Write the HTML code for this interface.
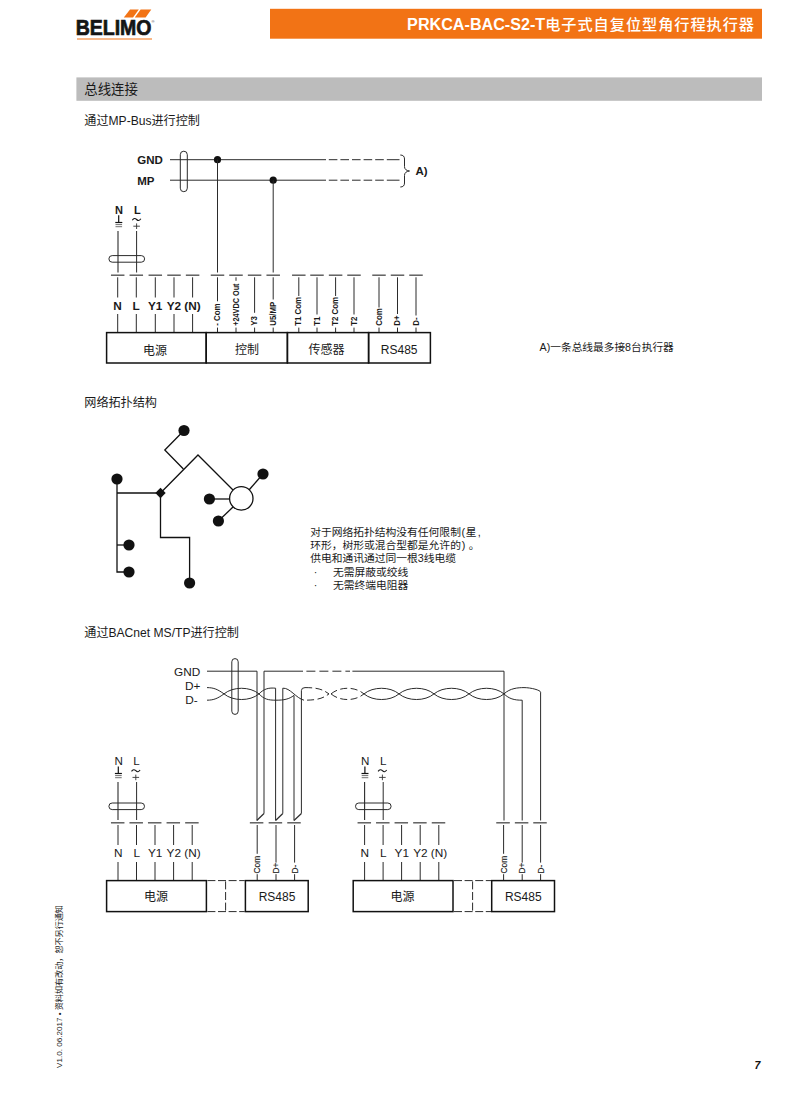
<!DOCTYPE html>
<html lang="zh-CN">
<head>
<meta charset="utf-8">
<title>PRKCA-BAC-S2-T电子式自复位型角行程执行器</title>
<style>
html,body{margin:0;padding:0;background:#fff;}
body{width:800px;height:1094px;overflow:hidden;}
svg{display:block;font-family:"Liberation Sans", "Noto Sans CJK SC", sans-serif;}
</style>
</head>
<body>
<svg width="800" height="1094" viewBox="0 0 800 1094">
<rect x="0" y="0" width="800" height="1094" fill="#ffffff"/>
<rect x="270" y="8.8" width="492" height="29.9" fill="#f27315"/>
<text x="755" y="29.5" font-size="16.15" font-weight="normal" text-anchor="end" fill="#fff" ><tspan font-weight="bold">PRKCA-BAC-S2-T</tspan><tspan font-weight="500" font-size="15.2" letter-spacing="0.95">电子式自复位型角行程执行器</tspan></text>
<polygon points="130,9.4 138.8,9.4 133,17.5 123.8,17.5" fill="#f27315"/>
<polygon points="140.6,9.4 151.3,9.4 145.6,17.5 134.8,17.5" fill="#f27315"/>
<text x="75.7" y="35.1" font-size="21.2" font-weight="bold" text-anchor="start" fill="#151515" textLength="75.8" lengthAdjust="spacingAndGlyphs" stroke="#151515" stroke-width="0.7">BELIMO</text>
<text x="151.4" y="23.4" font-size="4" font-weight="normal" text-anchor="start" fill="#333" >®</text>
<line x1="77" y1="39" x2="152" y2="39" stroke="#f27315" stroke-width="1.1" />
<rect x="76.4" y="77.4" width="685.6" height="23.4" fill="#bcbcbc"/>
<text x="84.3" y="94.4" font-size="13.4" font-weight="normal" text-anchor="start" fill="#1a1a1a" >总线连接</text>
<text x="84.3" y="124.5" font-size="12.1" font-weight="normal" text-anchor="start" fill="#1a1a1a" >通过MP-Bus进行控制</text>
<text x="137.2" y="163.8" font-size="11.5" font-weight="bold" text-anchor="start" fill="#1a1a1a" >GND</text>
<text x="137.2" y="184.6" font-size="11.5" font-weight="bold" text-anchor="start" fill="#1a1a1a" >MP</text>
<line x1="170" y1="159.7" x2="326" y2="159.7" stroke="#2b2b2b" stroke-width="1" />
<line x1="170" y1="180.2" x2="326" y2="180.2" stroke="#2b2b2b" stroke-width="1" />
<line x1="328.8" y1="159.7" x2="399.5" y2="159.7" stroke="#2b2b2b" stroke-width="1" stroke-dasharray="8.6 3 8.6 3 8.6 3 8.6 3 8.6 3 13 3"/>
<line x1="328.8" y1="180.2" x2="399.5" y2="180.2" stroke="#2b2b2b" stroke-width="1" stroke-dasharray="8.6 3 8.6 3 8.6 3 8.6 3 8.6 3 13 3"/>
<rect x="180.3" y="151.2" width="7" height="40.5" rx="3.5" ry="3.5" fill="none" stroke="#2b2b2b" stroke-width="1"/>
<path d="M400.3,155 q4.2,0 4.2,4 v7.6 q0,3.8 5,4.4 q-5,0.6 -5,4.4 v7.6 q0,4 -4.2,4" fill="none" stroke="#2b2b2b" stroke-width="1" />
<text x="415.4" y="174.9" font-size="11.5" font-weight="bold" text-anchor="start" fill="#1a1a1a" >A)</text>
<circle cx="217.5" cy="159.7" r="3.6" fill="#111"/>
<circle cx="273.2" cy="180.2" r="3.6" fill="#111"/>
<line x1="217.5" y1="159.7" x2="217.5" y2="272.5" stroke="#2b2b2b" stroke-width="1" />
<line x1="273.2" y1="180.2" x2="273.2" y2="272.5" stroke="#2b2b2b" stroke-width="1" />
<text x="119" y="213.6" font-size="11" font-weight="bold" text-anchor="middle" fill="#1a1a1a" >N</text>
<text x="137.4" y="213.6" font-size="11" font-weight="bold" text-anchor="middle" fill="#1a1a1a" >L</text>
<line x1="118.7" y1="215.2" x2="118.7" y2="222.5" stroke="#111" stroke-width="1.2" />
<line x1="115.3" y1="222.5" x2="122.3" y2="222.5" stroke="#111" stroke-width="1.2" />
<line x1="115.5" y1="224.6" x2="122.1" y2="224.6" stroke="#333" stroke-width="0.7" />
<line x1="115.5" y1="226.7" x2="122.1" y2="226.7" stroke="#333" stroke-width="0.7" />
<path d="M132.29999999999998,220.2 q2.1,-3.0 4.3,-0.7 q2.2,2.3 4.3,-0.7" fill="none" stroke="#1a1a1a" stroke-width="1.1" />
<line x1="133.29999999999998" y1="226.2" x2="139.9" y2="226.2" stroke="#333" stroke-width="0.9" />
<line x1="136.6" y1="223.4" x2="136.6" y2="229.0" stroke="#333" stroke-width="0.9" />
<line x1="118.0" y1="231" x2="118.0" y2="272.5" stroke="#2b2b2b" stroke-width="1.1" />
<line x1="136.6" y1="231" x2="136.6" y2="272.5" stroke="#2b2b2b" stroke-width="1" />
<rect x="108.9" y="255.6" width="35.7" height="6.6" rx="3.3" ry="3.3" fill="none" stroke="#2b2b2b" stroke-width="1"/>
<line x1="110.95" y1="275.2" x2="124.45" y2="275.2" stroke="#555" stroke-width="1.4" />
<line x1="129.55" y1="275.2" x2="143.05" y2="275.2" stroke="#555" stroke-width="1.4" />
<line x1="148.55" y1="275.2" x2="162.05" y2="275.2" stroke="#555" stroke-width="1.4" />
<line x1="167.25" y1="275.2" x2="180.75" y2="275.2" stroke="#555" stroke-width="1.4" />
<line x1="185.85" y1="275.2" x2="199.35" y2="275.2" stroke="#555" stroke-width="1.4" />
<line x1="210.75" y1="275.2" x2="224.25" y2="275.2" stroke="#555" stroke-width="1.4" />
<line x1="229.25" y1="275.2" x2="242.75" y2="275.2" stroke="#555" stroke-width="1.4" />
<line x1="247.85" y1="275.2" x2="261.35" y2="275.2" stroke="#555" stroke-width="1.4" />
<line x1="266.45" y1="275.2" x2="279.95" y2="275.2" stroke="#555" stroke-width="1.4" />
<line x1="292.05" y1="275.2" x2="305.55" y2="275.2" stroke="#555" stroke-width="1.4" />
<line x1="310.25" y1="275.2" x2="323.75" y2="275.2" stroke="#555" stroke-width="1.4" />
<line x1="328.85" y1="275.2" x2="342.35" y2="275.2" stroke="#555" stroke-width="1.4" />
<line x1="347.25" y1="275.2" x2="360.75" y2="275.2" stroke="#555" stroke-width="1.4" />
<line x1="372.25" y1="275.2" x2="385.75" y2="275.2" stroke="#555" stroke-width="1.4" />
<line x1="390.75" y1="275.2" x2="404.25" y2="275.2" stroke="#555" stroke-width="1.4" />
<line x1="409.25" y1="275.2" x2="422.75" y2="275.2" stroke="#555" stroke-width="1.4" />
<line x1="117.7" y1="277.3" x2="117.7" y2="297.5" stroke="#2b2b2b" stroke-width="1" />
<line x1="117.7" y1="314" x2="117.7" y2="332" stroke="#2b2b2b" stroke-width="1" />
<text x="117.60000000000001" y="309.6" font-size="11.8" font-weight="bold" text-anchor="middle" fill="#1a1a1a" >N</text>
<line x1="136.3" y1="277.3" x2="136.3" y2="297.5" stroke="#2b2b2b" stroke-width="1" />
<line x1="136.3" y1="314" x2="136.3" y2="332" stroke="#2b2b2b" stroke-width="1" />
<text x="136.20000000000002" y="309.6" font-size="11.8" font-weight="bold" text-anchor="middle" fill="#1a1a1a" >L</text>
<line x1="155.3" y1="277.3" x2="155.3" y2="297.5" stroke="#2b2b2b" stroke-width="1" />
<line x1="155.3" y1="314" x2="155.3" y2="332" stroke="#2b2b2b" stroke-width="1" />
<text x="155.20000000000002" y="309.6" font-size="11.8" font-weight="bold" text-anchor="middle" fill="#1a1a1a" >Y1</text>
<line x1="174" y1="277.3" x2="174" y2="297.5" stroke="#2b2b2b" stroke-width="1" />
<line x1="174" y1="314" x2="174" y2="332" stroke="#2b2b2b" stroke-width="1" />
<text x="173.9" y="309.6" font-size="11.8" font-weight="bold" text-anchor="middle" fill="#1a1a1a" >Y2</text>
<line x1="192.6" y1="277.3" x2="192.6" y2="297.5" stroke="#2b2b2b" stroke-width="1" />
<line x1="192.6" y1="314" x2="192.6" y2="332" stroke="#2b2b2b" stroke-width="1" />
<text x="192.5" y="309.6" font-size="11.8" font-weight="bold" text-anchor="middle" fill="#1a1a1a" >(N)</text>
<line x1="217.5" y1="277.3" x2="217.5" y2="301.3" stroke="#2b2b2b" stroke-width="1" />
<line x1="217.5" y1="327.6" x2="217.5" y2="332" stroke="#2b2b2b" stroke-width="1" />
<text transform="translate(220.1,325.8) rotate(-90) scale(0.93,1)" font-size="8.5" font-weight="bold" fill="#1a1a1a" >- Com</text>
<line x1="236" y1="277.3" x2="236" y2="280.8" stroke="#2b2b2b" stroke-width="1" />
<line x1="236" y1="327.6" x2="236" y2="332" stroke="#2b2b2b" stroke-width="1" />
<text transform="translate(238.6,325.8) rotate(-90) scale(0.86,1)" font-size="8.5" font-weight="bold" fill="#1a1a1a" >+24VDC Out</text>
<line x1="254.6" y1="277.3" x2="254.6" y2="312.8" stroke="#2b2b2b" stroke-width="1" />
<line x1="254.6" y1="327.6" x2="254.6" y2="332" stroke="#2b2b2b" stroke-width="1" />
<text transform="translate(257.2,325.8) rotate(-90) scale(0.93,1)" font-size="8.5" font-weight="bold" fill="#1a1a1a" >Y3</text>
<line x1="273.2" y1="277.3" x2="273.2" y2="299.5" stroke="#2b2b2b" stroke-width="1" />
<line x1="273.2" y1="327.6" x2="273.2" y2="332" stroke="#2b2b2b" stroke-width="1" />
<text transform="translate(275.8,325.8) rotate(-90) scale(0.93,1)" font-size="8.5" font-weight="bold" fill="#1a1a1a" >U5/MP</text>
<line x1="298.8" y1="277.3" x2="298.8" y2="296" stroke="#2b2b2b" stroke-width="1" />
<line x1="298.8" y1="327.6" x2="298.8" y2="332" stroke="#2b2b2b" stroke-width="1" />
<text transform="translate(301.40000000000003,325.8) rotate(-90) scale(0.93,1)" font-size="8.5" font-weight="bold" fill="#1a1a1a" >T1 Com</text>
<line x1="317" y1="277.3" x2="317" y2="314.5" stroke="#2b2b2b" stroke-width="1" />
<line x1="317" y1="327.6" x2="317" y2="332" stroke="#2b2b2b" stroke-width="1" />
<text transform="translate(319.6,325.8) rotate(-90) scale(0.93,1)" font-size="8.5" font-weight="bold" fill="#1a1a1a" >T1</text>
<line x1="335.6" y1="277.3" x2="335.6" y2="296" stroke="#2b2b2b" stroke-width="1" />
<line x1="335.6" y1="327.6" x2="335.6" y2="332" stroke="#2b2b2b" stroke-width="1" />
<text transform="translate(338.20000000000005,325.8) rotate(-90) scale(0.93,1)" font-size="8.5" font-weight="bold" fill="#1a1a1a" >T2 Com</text>
<line x1="354" y1="277.3" x2="354" y2="314.5" stroke="#2b2b2b" stroke-width="1" />
<line x1="354" y1="327.6" x2="354" y2="332" stroke="#2b2b2b" stroke-width="1" />
<text transform="translate(356.6,325.8) rotate(-90) scale(0.93,1)" font-size="8.5" font-weight="bold" fill="#1a1a1a" >T2</text>
<line x1="379" y1="277.3" x2="379" y2="307.5" stroke="#2b2b2b" stroke-width="1" />
<line x1="379" y1="327.6" x2="379" y2="332" stroke="#2b2b2b" stroke-width="1" />
<text transform="translate(381.6,325.8) rotate(-90) scale(0.93,1)" font-size="8.5" font-weight="bold" fill="#1a1a1a" >Com</text>
<line x1="397.5" y1="277.3" x2="397.5" y2="314" stroke="#2b2b2b" stroke-width="1" />
<line x1="397.5" y1="327.6" x2="397.5" y2="332" stroke="#2b2b2b" stroke-width="1" />
<text transform="translate(400.1,325.8) rotate(-90) scale(0.93,1)" font-size="8.5" font-weight="bold" fill="#1a1a1a" >D+</text>
<line x1="416" y1="277.3" x2="416" y2="315.5" stroke="#2b2b2b" stroke-width="1" />
<line x1="416" y1="327.6" x2="416" y2="332" stroke="#2b2b2b" stroke-width="1" />
<text transform="translate(418.6,325.8) rotate(-90) scale(0.93,1)" font-size="8.5" font-weight="bold" fill="#1a1a1a" >D-</text>
<rect x="106.6" y="332.6" width="99.6" height="30.4" fill="none" stroke="#111" stroke-width="1.5"/>
<rect x="206.2" y="332.6" width="81.2" height="30.4" fill="none" stroke="#111" stroke-width="1.5"/>
<rect x="287.4" y="332.6" width="81.2" height="30.4" fill="none" stroke="#111" stroke-width="1.5"/>
<rect x="368.6" y="332.6" width="61.8" height="30.4" fill="none" stroke="#111" stroke-width="1.5"/>
<text x="155" y="354.6" font-size="12" font-weight="normal" text-anchor="middle" fill="#1a1a1a" >电源</text>
<text x="247" y="354.3" font-size="12" font-weight="normal" text-anchor="middle" fill="#1a1a1a" >控制</text>
<text x="326.6" y="354.3" font-size="12" font-weight="normal" text-anchor="middle" fill="#1a1a1a" >传感器</text>
<text x="399.2" y="354.4" font-size="12" font-weight="normal" text-anchor="middle" fill="#1a1a1a" >RS485</text>
<text x="539.6" y="351" font-size="10.7" font-weight="normal" text-anchor="start" fill="#1a1a1a" >A)一条总线最多接8台执行器</text>
<text x="84.3" y="406.7" font-size="12.1" font-weight="normal" text-anchor="start" fill="#1a1a1a" >网络拓扑结构</text>
<path d="M184,430.5 L164.8,450 L183.4,469" fill="none" stroke="#111" stroke-width="1.3" stroke-linejoin="miter"/>
<path d="M160.5,493 L198,455 L233,490" fill="none" stroke="#111" stroke-width="1.3" stroke-linejoin="miter"/>
<path d="M117,479 L117,572 L129,572" fill="none" stroke="#111" stroke-width="1.3" stroke-linejoin="miter"/>
<path d="M117,493 L160.5,493" fill="none" stroke="#111" stroke-width="1.3" stroke-linejoin="miter"/>
<path d="M117,545 L129,545" fill="none" stroke="#111" stroke-width="1.3" stroke-linejoin="miter"/>
<path d="M160.5,493 L160.5,537.5 L189.6,537.5 L189.6,583" fill="none" stroke="#111" stroke-width="1.3" stroke-linejoin="miter"/>
<path d="M209.4,499 L230,499" fill="none" stroke="#111" stroke-width="1.3" stroke-linejoin="miter"/>
<path d="M218.4,521 L233,507" fill="none" stroke="#111" stroke-width="1.3" stroke-linejoin="miter"/>
<path d="M263,474 L249,490" fill="none" stroke="#111" stroke-width="1.3" stroke-linejoin="miter"/>
<circle cx="241.3" cy="498.4" r="11.7" fill="#fff" stroke="#111" stroke-width="1.3"/>
<circle cx="184" cy="430.5" r="5.6" fill="#111"/>
<circle cx="117" cy="479" r="5.6" fill="#111"/>
<circle cx="129" cy="545" r="5.6" fill="#111"/>
<circle cx="129" cy="572" r="5.6" fill="#111"/>
<circle cx="189.6" cy="583" r="5.6" fill="#111"/>
<circle cx="209.4" cy="499" r="5.6" fill="#111"/>
<circle cx="218.4" cy="521" r="5.6" fill="#111"/>
<circle cx="263" cy="474" r="5.6" fill="#111"/>
<polygon points="160.5,487.8 165.7,493 160.5,498.2 155.3,493" fill="#111"/>
<text x="310.2" y="535.8" font-size="10.78" font-weight="normal" text-anchor="start" fill="#1a1a1a" >对于网络拓扑结构没有任何限制<tspan dx="0.7">(</tspan><tspan dx="0.5">星</tspan><tspan dx="1.2">,</tspan></text>
<text x="310.2" y="549.4" font-size="10.78" font-weight="normal" text-anchor="start" fill="#1a1a1a" >环形，树形或混合型都是允许的<tspan dx="0.8">)</tspan><tspan dx="3.4">。</tspan></text>
<text x="310.2" y="562.3" font-size="10.78" font-weight="normal" text-anchor="start" fill="#1a1a1a" >供电和通讯通过同一根3线电缆</text>
<text x="313.8" y="576" font-size="10.78" font-weight="normal" text-anchor="start" fill="#1a1a1a" >·</text>
<text x="333" y="576" font-size="10.78" font-weight="normal" text-anchor="start" fill="#1a1a1a" >无需屏蔽或绞线</text>
<text x="313.8" y="589" font-size="10.78" font-weight="normal" text-anchor="start" fill="#1a1a1a" >·</text>
<text x="333" y="589" font-size="10.78" font-weight="normal" text-anchor="start" fill="#1a1a1a" >无需终端电阻器</text>
<text x="84.3" y="636.5" font-size="12.1" font-weight="normal" text-anchor="start" fill="#1a1a1a" >通过BACnet MS/TP进行控制</text>
<text x="200.3" y="675.8" font-size="11.8" font-weight="normal" text-anchor="end" fill="#1a1a1a" >GND</text>
<text x="200.3" y="690.2" font-size="11.8" font-weight="normal" text-anchor="end" fill="#1a1a1a" >D+</text>
<text x="197.8" y="703.8" font-size="11.8" font-weight="normal" text-anchor="end" fill="#1a1a1a" >D-</text>
<rect x="231.8" y="658.6" width="6.4" height="55.8" rx="3.2" ry="3.2" fill="none" stroke="#2b2b2b" stroke-width="1"/>
<path d="M207,671.2 H257 V820.5" fill="none" stroke="#2b2b2b" stroke-width="1" />
<path d="M264,813.5 V671.2 H303" fill="none" stroke="#2b2b2b" stroke-width="1" />
<path d="M256.8,820.5 L264,813.5" fill="none" stroke="#2b2b2b" stroke-width="1.2" />
<line x1="306.4" y1="671.2" x2="350" y2="671.2" stroke="#2b2b2b" stroke-width="1" stroke-dasharray="9 4"/>
<path d="M352.4,671.2 H504 V820.5" fill="none" stroke="#2b2b2b" stroke-width="1" />
<path d="M207,687.6 C214,687.6 218,689.6 224,693.9000000000001" fill="none" stroke="#2b2b2b" stroke-width="1" />
<path d="M207,700.2 C214,700.2 218,698.2 224,693.9000000000001" fill="none" stroke="#2b2b2b" stroke-width="1" />
<path d="M224,693.9000000000001 C233,686.4 250,686.4 259,693.9000000000001" fill="none" stroke="#2b2b2b" stroke-width="1" />
<path d="M224,693.9000000000001 C233,701.4000000000001 250,701.4000000000001 259,693.9000000000001" fill="none" stroke="#2b2b2b" stroke-width="1" />
<path d="M259,693.9000000000001 C264,688.6 269,687.6 275.6,688.2 V820.5" fill="none" stroke="#2b2b2b" stroke-width="1" />
<path d="M282.8,813.5 V688.2 C290,687.6 296,698.2 304,700.2" fill="none" stroke="#2b2b2b" stroke-width="1" />
<path d="M275.6,820.5 L282.8,813.5" fill="none" stroke="#2b2b2b" stroke-width="1.2" />
<path d="M259,693.9000000000001 C264,699.2 268,700.2 276,700.2 C284,700.2 289,699.2 294,695.4000000000001 V820.5" fill="none" stroke="#2b2b2b" stroke-width="1" />
<path d="M301.4,813.5 V690.6 Q301.4,687.6 305,687.6" fill="none" stroke="#2b2b2b" stroke-width="1" />
<path d="M294,820.5 L301.4,813.5" fill="none" stroke="#2b2b2b" stroke-width="1.2" />
<path d="M305,687.6 C318,687.6 323,689.6 329,693.9000000000001 C323,698.2 318,700.2 304,700.2" fill="none" stroke="#2b2b2b" stroke-width="1" stroke-dasharray="7 3.4"/>
<path d="M331,693.9000000000001 C340,686.4 355,686.4 364,693.9000000000001" fill="none" stroke="#2b2b2b" stroke-width="1" stroke-dasharray="7 3.4"/>
<path d="M331,693.9000000000001 C340,701.4000000000001 355,701.4000000000001 364,693.9000000000001" fill="none" stroke="#2b2b2b" stroke-width="1" stroke-dasharray="7 3.4"/>
<path d="M364,693.9000000000001 C373,686.4 390,686.4 399,693.9000000000001" fill="none" stroke="#2b2b2b" stroke-width="1" />
<path d="M364,693.9000000000001 C373,701.4000000000001 390,701.4000000000001 399,693.9000000000001" fill="none" stroke="#2b2b2b" stroke-width="1" />
<path d="M399,693.9000000000001 C408,686.4 425,686.4 434,693.9000000000001" fill="none" stroke="#2b2b2b" stroke-width="1" />
<path d="M399,693.9000000000001 C408,701.4000000000001 425,701.4000000000001 434,693.9000000000001" fill="none" stroke="#2b2b2b" stroke-width="1" />
<path d="M434,693.9000000000001 C443,686.4 460,686.4 469,693.9000000000001" fill="none" stroke="#2b2b2b" stroke-width="1" />
<path d="M434,693.9000000000001 C443,701.4000000000001 460,701.4000000000001 469,693.9000000000001" fill="none" stroke="#2b2b2b" stroke-width="1" />
<path d="M469,693.9000000000001 C478,686.4 495,686.4 504,693.9000000000001" fill="none" stroke="#2b2b2b" stroke-width="1" />
<path d="M469,693.9000000000001 C478,701.4000000000001 495,701.4000000000001 504,693.9000000000001" fill="none" stroke="#2b2b2b" stroke-width="1" />
<path d="M504,693.9000000000001 C510,688.2 518,687.6 524,687.6 C531,687.6 540.6,690.2 540.6,692.2 V820.5" fill="none" stroke="#2b2b2b" stroke-width="1" />
<path d="M504,693.9000000000001 C509,698.7 514,700.2 522.2,700.2 V820.5" fill="none" stroke="#2b2b2b" stroke-width="1" />
<text x="118.6" y="764.8" font-size="11.6" font-weight="normal" text-anchor="middle" fill="#1a1a1a" >N</text>
<text x="136.6" y="764.8" font-size="11.6" font-weight="normal" text-anchor="middle" fill="#1a1a1a" >L</text>
<line x1="118.3" y1="766.4" x2="118.3" y2="773.5" stroke="#111" stroke-width="1.2" />
<line x1="114.89999999999999" y1="773.5" x2="121.89999999999999" y2="773.5" stroke="#111" stroke-width="1.2" />
<line x1="115.1" y1="775.6" x2="121.69999999999999" y2="775.6" stroke="#333" stroke-width="0.7" />
<line x1="115.1" y1="777.7" x2="121.69999999999999" y2="777.7" stroke="#333" stroke-width="0.7" />
<path d="M131.49999999999997,771.4 q2.1,-3.0 4.3,-0.7 q2.2,2.3 4.3,-0.7" fill="none" stroke="#1a1a1a" stroke-width="1.1" />
<line x1="132.49999999999997" y1="777.4" x2="139.1" y2="777.4" stroke="#333" stroke-width="0.9" />
<line x1="135.79999999999998" y1="774.5999999999999" x2="135.79999999999998" y2="780.1999999999999" stroke="#333" stroke-width="0.9" />
<line x1="118" y1="782" x2="118" y2="820" stroke="#2b2b2b" stroke-width="1.1" />
<line x1="136.6" y1="782" x2="136.6" y2="820" stroke="#2b2b2b" stroke-width="1" />
<rect x="108.9" y="803" width="35.6" height="6.6" rx="3.3" ry="3.3" fill="none" stroke="#2b2b2b" stroke-width="1"/>
<line x1="110.95" y1="822.8" x2="124.45" y2="822.8" stroke="#555" stroke-width="1.4" />
<line x1="118" y1="825" x2="118" y2="845" stroke="#2b2b2b" stroke-width="1" />
<line x1="118" y1="862" x2="118" y2="880.5" stroke="#2b2b2b" stroke-width="1" />
<text x="118.2" y="857.4" font-size="11.8" font-weight="normal" text-anchor="middle" fill="#1a1a1a" >N</text>
<line x1="129.45" y1="822.8" x2="142.95" y2="822.8" stroke="#555" stroke-width="1.4" />
<line x1="136.5" y1="825" x2="136.5" y2="845" stroke="#2b2b2b" stroke-width="1" />
<line x1="136.5" y1="862" x2="136.5" y2="880.5" stroke="#2b2b2b" stroke-width="1" />
<text x="136.7" y="857.4" font-size="11.8" font-weight="normal" text-anchor="middle" fill="#1a1a1a" >L</text>
<line x1="147.95" y1="822.8" x2="161.45" y2="822.8" stroke="#555" stroke-width="1.4" />
<line x1="155" y1="825" x2="155" y2="845" stroke="#2b2b2b" stroke-width="1" />
<line x1="155" y1="862" x2="155" y2="880.5" stroke="#2b2b2b" stroke-width="1" />
<text x="155.2" y="857.4" font-size="11.8" font-weight="normal" text-anchor="middle" fill="#1a1a1a" >Y1</text>
<line x1="166.54999999999998" y1="822.8" x2="180.04999999999998" y2="822.8" stroke="#555" stroke-width="1.4" />
<line x1="173.6" y1="825" x2="173.6" y2="845" stroke="#2b2b2b" stroke-width="1" />
<line x1="173.6" y1="862" x2="173.6" y2="880.5" stroke="#2b2b2b" stroke-width="1" />
<text x="173.79999999999998" y="857.4" font-size="11.8" font-weight="normal" text-anchor="middle" fill="#1a1a1a" >Y2</text>
<line x1="185.14999999999998" y1="822.8" x2="198.64999999999998" y2="822.8" stroke="#555" stroke-width="1.4" />
<line x1="192.2" y1="825" x2="192.2" y2="845" stroke="#2b2b2b" stroke-width="1" />
<line x1="192.2" y1="862" x2="192.2" y2="880.5" stroke="#2b2b2b" stroke-width="1" />
<text x="192.39999999999998" y="857.4" font-size="11.8" font-weight="normal" text-anchor="middle" fill="#1a1a1a" >(N)</text>
<line x1="249.84999999999997" y1="822.8" x2="263.34999999999997" y2="822.8" stroke="#555" stroke-width="1.4" />
<line x1="257.2" y1="825" x2="257.2" y2="853.8" stroke="#2b2b2b" stroke-width="1" />
<line x1="257.2" y1="874.2" x2="257.2" y2="880.5" stroke="#2b2b2b" stroke-width="1" />
<text transform="translate(260.3,873.4) rotate(-90) scale(0.97,1)" font-size="8.6" font-weight="normal" fill="#1a1a1a" stroke="#1a1a1a" stroke-width="0.15">Com</text>
<line x1="268.65" y1="822.8" x2="282.15" y2="822.8" stroke="#555" stroke-width="1.4" />
<line x1="276" y1="825" x2="276" y2="862.6" stroke="#2b2b2b" stroke-width="1" />
<line x1="276" y1="874.2" x2="276" y2="880.5" stroke="#2b2b2b" stroke-width="1" />
<text transform="translate(279.1,873.4) rotate(-90) scale(0.97,1)" font-size="8.6" font-weight="normal" fill="#1a1a1a" stroke="#1a1a1a" stroke-width="0.15">D+</text>
<line x1="287.25" y1="822.8" x2="300.75" y2="822.8" stroke="#555" stroke-width="1.4" />
<line x1="294.6" y1="825" x2="294.6" y2="862.6" stroke="#2b2b2b" stroke-width="1" />
<line x1="294.6" y1="874.2" x2="294.6" y2="880.5" stroke="#2b2b2b" stroke-width="1" />
<text transform="translate(297.70000000000005,873.4) rotate(-90) scale(0.97,1)" font-size="8.6" font-weight="normal" fill="#1a1a1a" stroke="#1a1a1a" stroke-width="0.15">D-</text>
<rect x="106.6" y="880.6" width="99.8" height="31" fill="none" stroke="#111" stroke-width="1.5"/>
<rect x="245.4" y="880.6" width="62.8" height="31" fill="none" stroke="#111" stroke-width="1.5"/>
<text x="156" y="901.2" font-size="12" font-weight="normal" text-anchor="middle" fill="#1a1a1a" >电源</text>
<text x="277.0" y="901" font-size="12" font-weight="normal" text-anchor="middle" fill="#1a1a1a" >RS485</text>
<line x1="207.4" y1="880.6" x2="244.8" y2="880.6" stroke="#2b2b2b" stroke-width="1" stroke-dasharray="8 2.6"/>
<line x1="207.4" y1="911.6" x2="244.8" y2="911.6" stroke="#2b2b2b" stroke-width="1" stroke-dasharray="8 2.6"/>
<line x1="225.6" y1="881.4" x2="225.6" y2="911.6" stroke="#2b2b2b" stroke-width="1" stroke-dasharray="8 2.6"/>
<text x="365.2" y="764.8" font-size="11.6" font-weight="normal" text-anchor="middle" fill="#1a1a1a" >N</text>
<text x="383.2" y="764.8" font-size="11.6" font-weight="normal" text-anchor="middle" fill="#1a1a1a" >L</text>
<line x1="364.9" y1="766.4" x2="364.9" y2="773.5" stroke="#111" stroke-width="1.2" />
<line x1="361.5" y1="773.5" x2="368.5" y2="773.5" stroke="#111" stroke-width="1.2" />
<line x1="361.7" y1="775.6" x2="368.3" y2="775.6" stroke="#333" stroke-width="0.7" />
<line x1="361.7" y1="777.7" x2="368.3" y2="777.7" stroke="#333" stroke-width="0.7" />
<path d="M378.09999999999997,771.4 q2.1,-3.0 4.3,-0.7 q2.2,2.3 4.3,-0.7" fill="none" stroke="#1a1a1a" stroke-width="1.1" />
<line x1="379.09999999999997" y1="777.4" x2="385.7" y2="777.4" stroke="#333" stroke-width="0.9" />
<line x1="382.4" y1="774.5999999999999" x2="382.4" y2="780.1999999999999" stroke="#333" stroke-width="0.9" />
<line x1="364.6" y1="782" x2="364.6" y2="820" stroke="#2b2b2b" stroke-width="1.1" />
<line x1="383.2" y1="782" x2="383.2" y2="820" stroke="#2b2b2b" stroke-width="1" />
<rect x="355.5" y="803" width="35.6" height="6.6" rx="3.3" ry="3.3" fill="none" stroke="#2b2b2b" stroke-width="1"/>
<line x1="357.55" y1="822.8" x2="371.05" y2="822.8" stroke="#555" stroke-width="1.4" />
<line x1="364.6" y1="825" x2="364.6" y2="845" stroke="#2b2b2b" stroke-width="1" />
<line x1="364.6" y1="862" x2="364.6" y2="880.5" stroke="#2b2b2b" stroke-width="1" />
<text x="364.8" y="857.4" font-size="11.8" font-weight="normal" text-anchor="middle" fill="#1a1a1a" >N</text>
<line x1="376.05" y1="822.8" x2="389.55" y2="822.8" stroke="#555" stroke-width="1.4" />
<line x1="383.1" y1="825" x2="383.1" y2="845" stroke="#2b2b2b" stroke-width="1" />
<line x1="383.1" y1="862" x2="383.1" y2="880.5" stroke="#2b2b2b" stroke-width="1" />
<text x="383.3" y="857.4" font-size="11.8" font-weight="normal" text-anchor="middle" fill="#1a1a1a" >L</text>
<line x1="394.55" y1="822.8" x2="408.05" y2="822.8" stroke="#555" stroke-width="1.4" />
<line x1="401.6" y1="825" x2="401.6" y2="845" stroke="#2b2b2b" stroke-width="1" />
<line x1="401.6" y1="862" x2="401.6" y2="880.5" stroke="#2b2b2b" stroke-width="1" />
<text x="401.8" y="857.4" font-size="11.8" font-weight="normal" text-anchor="middle" fill="#1a1a1a" >Y1</text>
<line x1="413.15" y1="822.8" x2="426.65" y2="822.8" stroke="#555" stroke-width="1.4" />
<line x1="420.2" y1="825" x2="420.2" y2="845" stroke="#2b2b2b" stroke-width="1" />
<line x1="420.2" y1="862" x2="420.2" y2="880.5" stroke="#2b2b2b" stroke-width="1" />
<text x="420.4" y="857.4" font-size="11.8" font-weight="normal" text-anchor="middle" fill="#1a1a1a" >Y2</text>
<line x1="431.74999999999994" y1="822.8" x2="445.24999999999994" y2="822.8" stroke="#555" stroke-width="1.4" />
<line x1="438.79999999999995" y1="825" x2="438.79999999999995" y2="845" stroke="#2b2b2b" stroke-width="1" />
<line x1="438.79999999999995" y1="862" x2="438.79999999999995" y2="880.5" stroke="#2b2b2b" stroke-width="1" />
<text x="438.99999999999994" y="857.4" font-size="11.8" font-weight="normal" text-anchor="middle" fill="#1a1a1a" >(N)</text>
<line x1="496.25" y1="822.8" x2="509.75" y2="822.8" stroke="#555" stroke-width="1.4" />
<line x1="503.6" y1="825" x2="503.6" y2="853.8" stroke="#2b2b2b" stroke-width="1" />
<line x1="503.6" y1="874.2" x2="503.6" y2="880.5" stroke="#2b2b2b" stroke-width="1" />
<text transform="translate(506.70000000000005,873.4) rotate(-90) scale(0.97,1)" font-size="8.6" font-weight="normal" fill="#1a1a1a" stroke="#1a1a1a" stroke-width="0.15">Com</text>
<line x1="514.85" y1="822.8" x2="528.35" y2="822.8" stroke="#555" stroke-width="1.4" />
<line x1="522.2" y1="825" x2="522.2" y2="862.6" stroke="#2b2b2b" stroke-width="1" />
<line x1="522.2" y1="874.2" x2="522.2" y2="880.5" stroke="#2b2b2b" stroke-width="1" />
<text transform="translate(525.3000000000001,873.4) rotate(-90) scale(0.97,1)" font-size="8.6" font-weight="normal" fill="#1a1a1a" stroke="#1a1a1a" stroke-width="0.15">D+</text>
<line x1="533.25" y1="822.8" x2="546.75" y2="822.8" stroke="#555" stroke-width="1.4" />
<line x1="540.6" y1="825" x2="540.6" y2="862.6" stroke="#2b2b2b" stroke-width="1" />
<line x1="540.6" y1="874.2" x2="540.6" y2="880.5" stroke="#2b2b2b" stroke-width="1" />
<text transform="translate(543.7,873.4) rotate(-90) scale(0.97,1)" font-size="8.6" font-weight="normal" fill="#1a1a1a" stroke="#1a1a1a" stroke-width="0.15">D-</text>
<rect x="353.2" y="880.6" width="99.8" height="31" fill="none" stroke="#111" stroke-width="1.5"/>
<rect x="491.7" y="880.6" width="62.8" height="31" fill="none" stroke="#111" stroke-width="1.5"/>
<text x="402.6" y="901.2" font-size="12" font-weight="normal" text-anchor="middle" fill="#1a1a1a" >电源</text>
<text x="523.3" y="901" font-size="12" font-weight="normal" text-anchor="middle" fill="#1a1a1a" >RS485</text>
<line x1="454.0" y1="880.6" x2="491.09999999999997" y2="880.6" stroke="#2b2b2b" stroke-width="1" stroke-dasharray="8 2.6"/>
<line x1="454.0" y1="911.6" x2="491.09999999999997" y2="911.6" stroke="#2b2b2b" stroke-width="1" stroke-dasharray="8 2.6"/>
<line x1="472.6" y1="881.4" x2="472.6" y2="911.6" stroke="#2b2b2b" stroke-width="1" stroke-dasharray="8 2.6"/>
<text transform="translate(61.8,1068) rotate(-90)" font-size="8.1" fill="#222">V1.0. 06.2017 • 资料如有改动，恕不另行通知</text>
<text x="757.4" y="1069.4" font-size="10.6" font-weight="bold" text-anchor="middle" fill="#111" font-style="italic">7</text>
</svg>
</body>
</html>
